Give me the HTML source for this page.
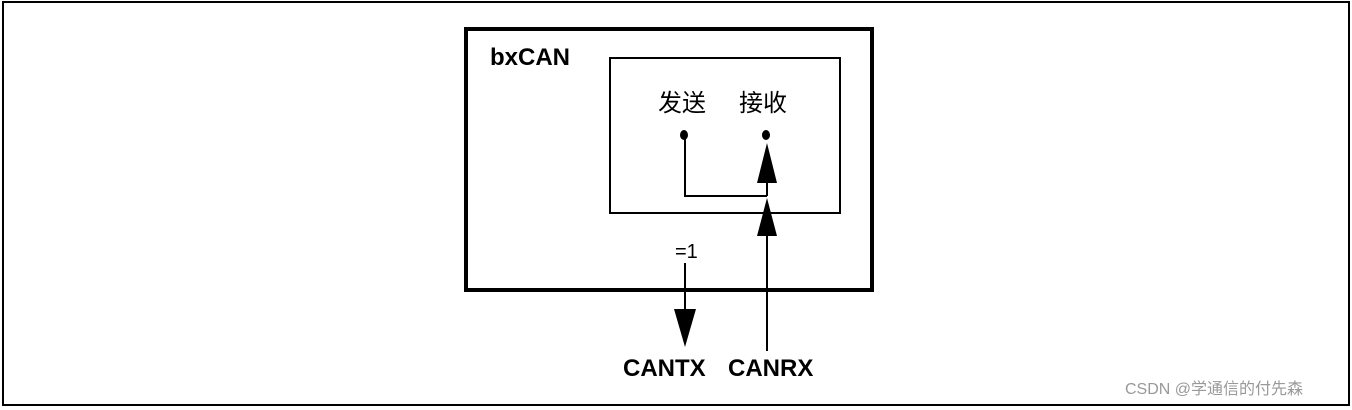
<!DOCTYPE html>
<html><head><meta charset="utf-8"><style>
html,body{margin:0;padding:0;background:#fff;width:1352px;height:410px;overflow:hidden}
</style></head><body>
<svg width="1352" height="410" viewBox="0 0 1352 410" xmlns="http://www.w3.org/2000/svg">
<rect x="3" y="2" width="1346" height="403" fill="none" stroke="#000" stroke-width="2"/>
<rect x="466" y="29" width="406" height="261" fill="none" stroke="#000" stroke-width="4"/>
<rect x="610" y="58" width="230" height="155" fill="none" stroke="#000" stroke-width="2"/>
<text x="490" y="65" font-family="Liberation Sans, sans-serif" font-weight="bold" font-size="24">bxCAN</text>
<text x="658" y="111" font-family="Liberation Sans, 'Noto Sans CJK SC', sans-serif" font-size="24">发送</text>
<text x="739" y="111" font-family="Liberation Sans, 'Noto Sans CJK SC', sans-serif" font-size="24">接收</text>
<ellipse cx="684" cy="135" rx="4" ry="5" fill="#000"/>
<ellipse cx="766" cy="135" rx="4" ry="5" fill="#000"/>
<polyline points="685,138 685,196 767,196" fill="none" stroke="#000" stroke-width="2"/>
<line x1="767" y1="178" x2="767" y2="196" stroke="#000" stroke-width="2"/>
<polygon points="767,143 757,183 777,183" fill="#000"/>
<polygon points="767,198 757,236 777,236" fill="#000"/>
<line x1="767" y1="234" x2="767" y2="351" stroke="#000" stroke-width="2"/>
<text x="675" y="258" font-family="Liberation Sans, sans-serif" font-size="20">=1</text>
<line x1="685" y1="263" x2="685" y2="312" stroke="#000" stroke-width="2"/>
<polygon points="674,309 696,309 685,347" fill="#000"/>
<text x="623" y="376" font-family="Liberation Sans, sans-serif" font-weight="bold" font-size="24">CANTX</text>
<text x="728" y="376" font-family="Liberation Sans, sans-serif" font-weight="bold" font-size="24">CANRX</text>
<text x="1125" y="394" font-family="Liberation Sans, 'Noto Sans CJK SC', sans-serif" font-size="16" fill="#999">CSDN @学通信的付先森</text>
</svg>
</body></html>
